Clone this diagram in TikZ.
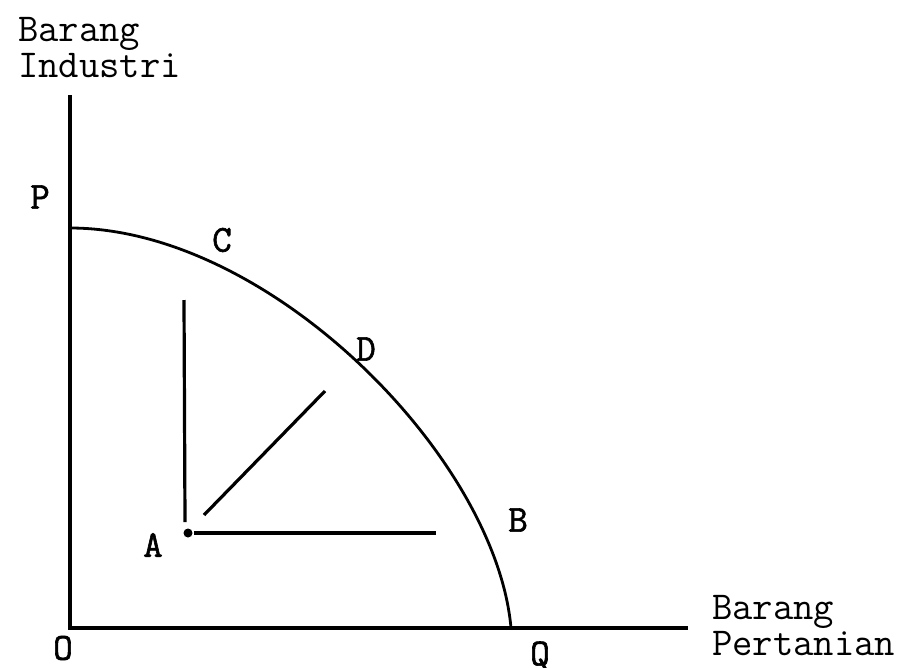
\documentclass[tikz,border=0pt]{standalone}
\usepackage{fontspec}
\setmainfont{Latin Modern Mono}
\newfontfamily\lblfont[AutoFakeBold=1.6]{Latin Modern Mono}
\begin{document}
\begin{tikzpicture}[x=1pt,y=-1pt,
  axis/.style={line width=3.2pt},
  curve/.style={line width=2.8pt},
  inner/.style={line width=3.2pt},
  txt/.style={inner sep=0pt,font=\fontsize{39.5}{36}\selectfont,align=left},
  lbl/.style={inner sep=0pt,font=\lblfont\fontsize{38}{36}\selectfont\bfseries}]
\useasboundingbox (0,0) rectangle (900,667);
% axes
\coordinate (O) at (70,628);
\coordinate (ytop) at (70,95);
\coordinate (xend) at (688,628);
\draw[axis] (ytop) -- (O) -- (xend);
% curve
\coordinate (Pp) at (70,228);
\coordinate (Qp) at (511,628);
\draw[curve] (Pp) .. controls (270,228) and (496,458) .. (Qp);
% inner lines
\coordinate (A) at (188,533);
\coordinate (vtop) at (184,300);
\coordinate (vbot) at (185,522);
\coordinate (hend) at (436,533);
\coordinate (dlo) at (204,515);
\coordinate (dhi) at (325,391);
\draw[inner] (vtop) -- (vbot);
\draw[inner] ([xshift=6pt]A) -- (hend);
\draw[inner] (dlo) -- (dhi);
\fill (A) circle (4.5pt);
% labels
\node[txt,anchor=base west] (yl) at (18,77) {Barang\\Industri};
\node[txt,anchor=base west] (xl) at (712,655) {Barang\\Pertanian};
\node[lbl] (lP) at (40,197) {P};
\node[lbl] (lC) at (222,240) {C};
\node[lbl] (lD) at (366,349) {D};
\node[lbl] (lB) at (518,520) {B};
\node[lbl] (lA) at (153,545) {A};
\node[lbl] (lO) at (63,648) {O};
\node[lbl] (lQ) at (540,656) {Q};
\end{tikzpicture}
\end{document}
